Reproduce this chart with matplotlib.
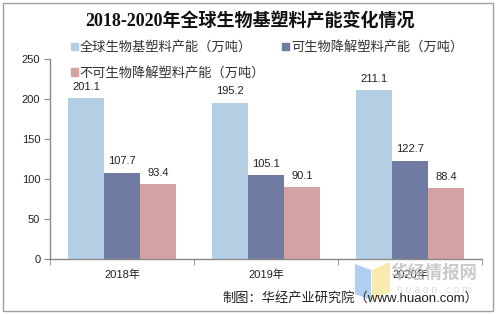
import matplotlib
matplotlib.use("Agg")
import matplotlib.pyplot as plt
from matplotlib.patches import Patch, Rectangle, Polygon
import numpy as np

years = ["2018年", "2019年", "2020年"]
series_names = ["全球生物基塑料产能（万吨）", "可生物降解塑料产能（万吨）", "不可生物降解塑料产能（万吨）"]
total = [201.1, 195.2, 211.1]
biodeg = [107.7, 105.1, 122.7]
nonbiodeg = [93.4, 90.1, 88.4]
yticks = [0, 50, 100, 150, 200, 250]

colors = ["#b4cfe4", "#6f7ba3", "#d4a2a2"]
sans = ["Liberation Sans", "Noto Sans CJK SC"]
plt.rcParams["font.family"] = sans

W, H = 499, 315
fig = plt.figure(figsize=(W / 100, H / 100), dpi=100)
ax = fig.add_axes([50 / W, 1 - 259 / H, 432 / W, 200 / H])

x = np.arange(len(years))
bw = 0.25
data = [total, biodeg, nonbiodeg]
for i, (vals, c, name) in enumerate(zip(data, colors, series_names)):
    xs = x + (i - 1) * bw
    ax.bar(xs, vals, width=bw, color=c, label=name, zorder=2)
    for xi, v in zip(xs, vals):
        ax.text(xi, v + 8, f"{v:.1f}", ha="center", va="bottom", fontsize=8, color="#222222")

ax.set_xlim(-0.5, len(years) - 0.5)
ax.set_ylim(0, 250)
ax.set_yticks(yticks)
ax.set_yticklabels([str(t) for t in yticks], fontsize=8, color="#222222")
ax.set_xticks(x)
ax.set_xticklabels(years, fontsize=8, color="#222222")
ax.tick_params(axis="x", length=0, pad=8)
ax.set_xticks(np.arange(len(years) + 1) - 0.5, minor=True)
ax.tick_params(axis="x", which="minor", length=4, color="#888888", direction="out")
ax.tick_params(axis="y", length=4, color="#888888", direction="out", pad=3)
for s in ["top", "right"]:
    ax.spines[s].set_visible(False)
for s in ["left", "bottom"]:
    ax.spines[s].set_color("#8a8a8a")
    ax.spines[s].set_linewidth(1.0)

handles = [Patch(color=c) for c in colors]
order = [0, 2, 1]
leg = fig.legend([handles[i] for i in order], [series_names[i] for i in order],
                 ncol=2, loc="upper left", bbox_to_anchor=(71 / W, 1 - 41 / H),
                 frameon=False, fontsize=9.5, handlelength=0.5, handleheight=0.5,
                 handletextpad=0.15, columnspacing=1.3, labelspacing=0.95,
                 borderpad=0, borderaxespad=0)
for t in leg.get_texts():
    t.set_color("#333333")

fig.text(250 / W, 1 - 22 / H, "2018-2020年全球生物基塑料产能变化情况",
         ha="center", va="center", fontsize=13, fontweight="bold",
         family=["Liberation Serif", "Noto Sans CJK SC"], color="#111111")

# watermark logo + text
def fx(px):
    return px / W

def fy(py):
    return 1 - py / H

fig.patches.append(Polygon([(fx(355), fy(264)), (fx(371), fy(270)), (fx(371), fy(300)), (fx(355), fy(294))],
                           closed=True, transform=fig.transFigure, facecolor="#9cc3ef", edgecolor="none", alpha=0.8))
fig.patches.append(Polygon([(fx(372), fy(270)), (fx(390), fy(262)), (fx(390), fy(292)), (fx(372), fy(300))],
                           closed=True, transform=fig.transFigure, facecolor="#f7e79a", edgecolor="none", alpha=0.8))
fig.text(434 / W, 1 - 272 / H, "华经情报网", ha="center", va="center", fontsize=12.5,
         color="#bdbdbd", alpha=0.8, fontweight="bold")
fig.text(434 / W, 1 - 290 / H, "h u a o n . c o m", ha="center", va="center", fontsize=7.5,
         color="#d4d4d4", alpha=0.8)

fig.text(478 / W, 1 - 298 / H, "制图：华经产业研究院（www.huaon.com）",
         ha="right", va="center", fontsize=9.5, color="#222222")

fig.patches.append(Rectangle((3 / W, 1 - 311 / H), 490 / W, 308 / H, transform=fig.transFigure,
                             fill=False, edgecolor="#a0a0a0", linewidth=1.0))

fig.savefig("out.png", dpi=100)
